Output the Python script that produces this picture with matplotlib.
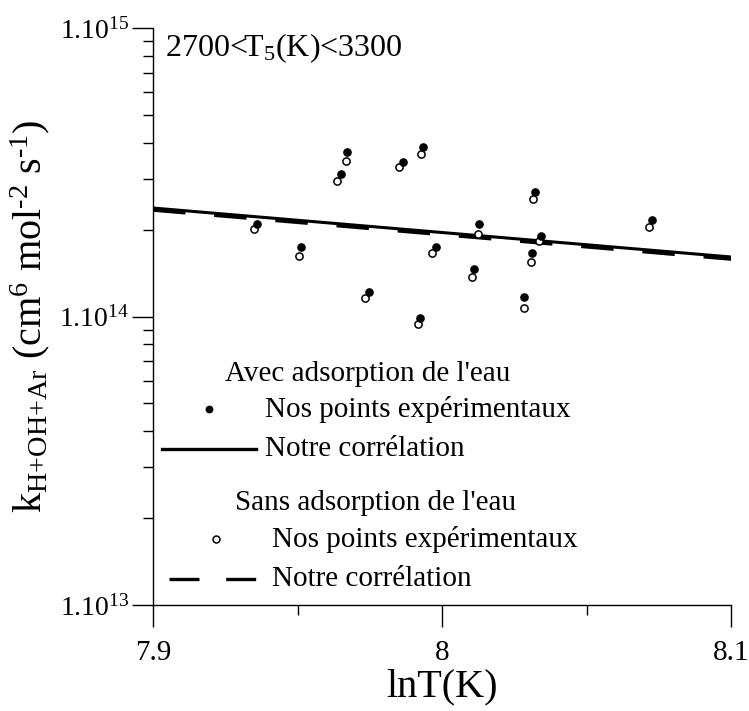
import numpy as np
import matplotlib
matplotlib.use("Agg")
import matplotlib.pyplot as plt
from matplotlib.ticker import FixedLocator, LogLocator, NullFormatter

plt.rcParams['font.family'] = ['Liberation Serif', 'DejaVu Serif']
plt.rcParams['mathtext.fontset'] = 'custom'
plt.rcParams['mathtext.rm'] = 'Liberation Serif'
plt.rcParams['mathtext.it'] = 'Liberation Serif:italic'

# avec adsorption de l'eau (points pleins)
lnT_avec = [7.9361, 7.9512, 7.9650, 7.9672, 7.9747, 7.9864, 7.9933, 7.9923,
            7.9978, 8.0127, 8.0112, 8.0285, 8.0323, 8.0310, 8.0343, 8.0726]
k_avec = [2.088e14, 1.741e14, 3.118e14, 3.709e14, 1.216e14, 3.440e14, 3.878e14, 9.90e13,
          1.741e14, 2.093e14, 1.461e14, 1.166e14, 2.701e14, 1.660e14, 1.901e14, 2.160e14]

# sans adsorption de l'eau (points vides)
lnT_sans = [7.9348, 7.9505, 7.9638, 7.9667, 7.9735, 7.9852, 7.9926, 7.9916,
            7.9966, 8.0124, 8.0104, 8.0284, 8.0316, 8.0337, 8.0307, 8.0716]
k_sans = [2.006e14, 1.624e14, 2.956e14, 3.459e14, 1.156e14, 3.290e14, 3.649e14, 9.42e13,
          1.664e14, 1.932e14, 1.367e14, 1.068e14, 2.548e14, 1.831e14, 1.545e14, 2.048e14]

# correlations
lnT_fit = [7.9, 8.1]
k_fit_avec = [2.377e14, 1.608e14]
k_fit_sans = [2.34e14, 1.582e14]

fig = plt.figure(figsize=(7.49, 7.11), dpi=100)
ax = fig.add_axes([0.2043, 0.1491, 0.7717, 0.8115])

ax.plot(lnT_fit, k_fit_sans, color='black', lw=2.6, dashes=(9, 8))
ax.plot(lnT_fit, k_fit_avec, color='black', lw=2.2)
ax.plot(lnT_sans, k_sans, 'o', ms=5.2, mfc='white', mec='black', mew=1.1, ls='none')
ax.plot(lnT_avec, k_avec, 'o', ms=5.2, mfc='black', mec='black', ls='none')

ax.set_yscale('log')
ax.set_xlim(7.9, 8.1)
ax.set_ylim(1e13, 1e15)

ax.spines['top'].set_visible(False)
ax.spines['right'].set_visible(False)
ax.spines['left'].set_linewidth(1.0)
ax.spines['bottom'].set_linewidth(1.0)

ax.xaxis.set_major_locator(FixedLocator([7.9, 8.0, 8.1]))
ax.xaxis.set_minor_locator(FixedLocator([7.95, 8.05]))
ax.set_xticklabels(['7.9', '8', '8.1'])
ax.yaxis.set_major_locator(FixedLocator([1e13, 1e14, 1e15]))
ax.set_yticklabels([r'1.10$^{13}$', r'1.10$^{14}$', r'1.10$^{15}$'])
ax.yaxis.set_minor_locator(LogLocator(base=10, subs=np.arange(2, 10)))
ax.yaxis.set_minor_formatter(NullFormatter())

ax.tick_params(axis='x', which='major', direction='out', length=16, width=1, labelsize=21, pad=9)
ax.tick_params(axis='x', which='minor', direction='out', length=7, width=1)
ax.tick_params(axis='y', which='major', direction='out', length=15, width=1, labelsize=20, pad=2)
ax.tick_params(axis='y', which='minor', direction='out', length=7, width=1)

ax.set_xlabel('lnT(K)', fontsize=29, labelpad=2)
ax.set_ylabel(r'k$_{\text{H+OH+Ar}}$ (cm$^6$ mol$^{\text{-2}}$ s$^{\text{-1}}$)',
              fontsize=29, labelpad=5)

ax.text(0.02, 0.965, r'2700<T$_5$(K)<3300', transform=ax.transAxes,
        fontsize=23, ha='left', va='center')

# legende manuelle
fs = 21
ax.text(0.1246, 0.400, "Avec adsorption de l'eau", transform=ax.transAxes, fontsize=fs, va='center')
ax.plot([0.0969], [0.3397], 'o', ms=4.6, color='black', transform=ax.transAxes)
ax.text(0.1938, 0.338, 'Nos points expérimentaux', transform=ax.transAxes, fontsize=fs, va='center')
ax.plot([0.0156, 0.1782], [0.2704, 0.2704], color='black', lw=2.4, transform=ax.transAxes)
ax.text(0.1938, 0.2704, 'Notre corrélation', transform=ax.transAxes, fontsize=fs, va='center')

ax.text(0.1419, 0.1768, "Sans adsorption de l'eau", transform=ax.transAxes, fontsize=fs, va='center')
ax.plot([0.109], [0.1144], 'o', ms=5, mfc='white', mec='black', mew=1.1, transform=ax.transAxes)
ax.text(0.2059, 0.1127, 'Nos points expérimentaux', transform=ax.transAxes, fontsize=fs, va='center')
ax.plot([0.0277, 0.1817], [0.0451, 0.0451], color='black', lw=2.4, dashes=(9, 8),
        transform=ax.transAxes)
ax.text(0.2059, 0.0451, 'Notre corrélation', transform=ax.transAxes, fontsize=fs, va='center')

plt.savefig('out.png', dpi=100)
